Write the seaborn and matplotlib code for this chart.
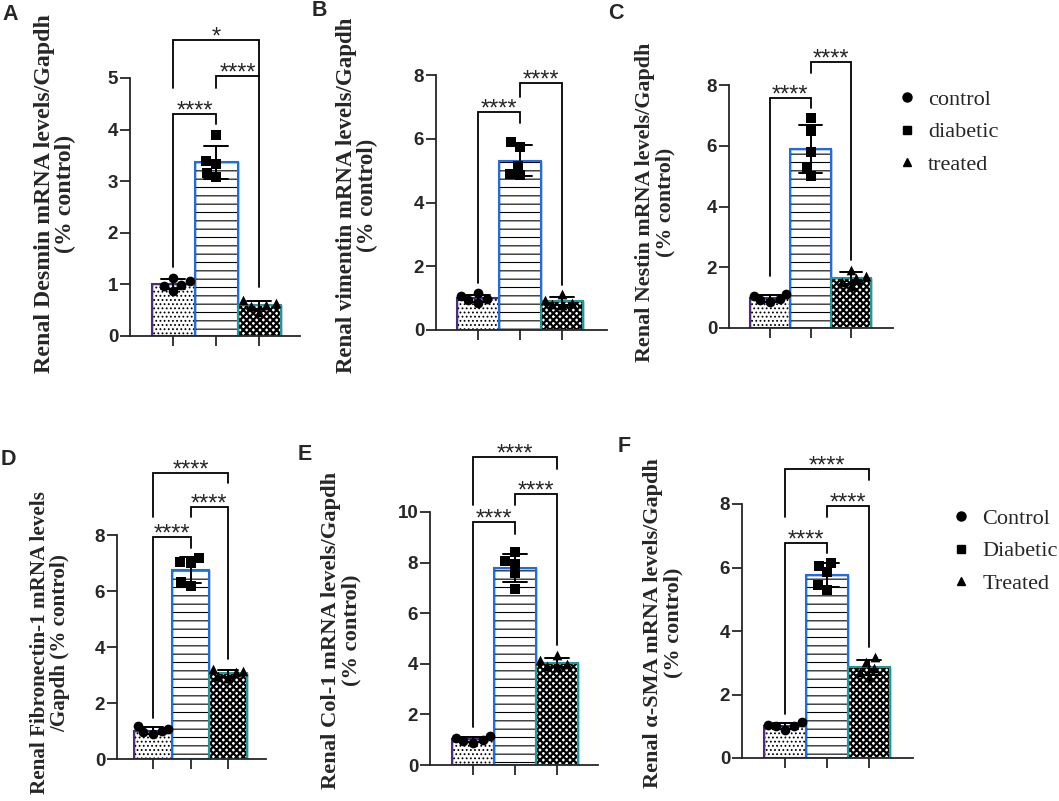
import numpy as np
import pandas as pd
import matplotlib
matplotlib.use("Agg")
import matplotlib.pyplot as plt
import seaborn as sns
from matplotlib.lines import Line2D
from matplotlib.patches import Rectangle

sns.set_theme(style="ticks")
plt.rcParams["font.family"] = ["Liberation Sans", "DejaVu Sans"]
plt.rcParams["hatch.linewidth"] = 0.8

# ── Data (5 animals per group) ──
groups = ["control", "diabetic", "treated"]

desmin = [[1.06, 0.87, 0.99, 1.12, 0.96],
          [3.89, 3.34, 3.39, 3.08, 3.15],
          [0.70, 0.61, 0.63, 0.58, 0.47]]
vimentin = [[1.15, 0.84, 1.07, 0.94, 0.96],
            [5.91, 5.75, 5.16, 4.86, 4.90],
            [0.94, 1.12, 0.80, 0.82, 0.86]]
nestin = [[1.13, 0.84, 1.04, 0.93, 0.95],
          [6.90, 6.49, 5.78, 5.29, 4.99],
          [1.72, 1.37, 1.64, 1.90, 1.53]]
fibronectin = [[1.18, 0.88, 1.06, 0.95, 1.01],
               [7.05, 7.17, 6.99, 6.19, 6.31],
               [3.14, 3.10, 3.20, 2.90, 2.95]]
col1 = [[0.95, 1.14, 0.99, 1.08, 0.88],
        [8.42, 7.96, 8.05, 7.57, 6.97],
        [4.34, 4.14, 3.88, 3.90, 3.99]]
asma = [[1.14, 0.87, 1.03, 1.00, 1.00],
        [6.15, 5.87, 6.05, 5.29, 5.45],
        [3.17, 3.01, 2.82, 2.56, 2.71]]

# brackets: (group i, group j, height, left leg bottom, right leg bottom, label)
desmin_sig = [(0, 1, 4.30, 1.34, 4.11, "****"),
              (1, 2, 5.03, 4.81, 0.94, "****"),
              (0, 2, 5.74, 4.81, 5.03, "*")]
vimentin_sig = [(0, 1, 6.85, 1.46, 6.49, "****"),
                (1, 2, 7.74, 7.32, 1.41, "****")]
nestin_sig = [(0, 1, 7.56, 1.70, 7.23, "****"),
              (1, 2, 8.75, 8.41, 2.25, "****")]
fibronectin_sig = [(0, 1, 7.92, 1.48, 7.55, "****"),
                   (1, 2, 8.99, 8.65, 3.56, "****"),
                   (0, 2, 10.2, 8.65, 9.85, "****")]
col1_sig = [(0, 1, 9.61, 1.51, 9.14, "****"),
            (1, 2, 10.70, 10.29, 4.74, "****"),
            (0, 2, 12.17, 10.29, 11.71, "****")]
asma_sig = [(0, 1, 6.78, 1.40, 6.45, "****"),
            (1, 2, 7.95, 7.60, 3.50, "****"),
            (0, 2, 9.11, 7.60, 8.76, "****")]

legend_lower = ["control", "diabetic", "treated"]
legend_upper = ["Control", "Diabetic", "Treated"]

# ── Styling ──
W, H = 1059, 801
markers = ["o", "s", "^"]
hatches = ["....", "--", "xxxxx"]
edge_colors = ["#4b2d80", "#1a6ee6", "#1a9c9c"]
SERIF = ["Liberation Serif", "DejaVu Serif"]

# panel layout in pixels: spine x, right end x, y of zero, y of top tick
panels = [
    dict(data=desmin, sig=desmin_sig, ymax=5, step=1, px=(130, 300, 336, 78), centers=(173, 259),
         label="A", lab_xy=(2, 4), ylab="Renal Desmin mRNA levels/Gapdh\n(% control)",
         ylab_xy=(55, 194), ylab_fs=17.2),
    dict(data=vimentin, sig=vimentin_sig, ymax=8, step=2, px=(436, 607, 330, 75), centers=(478, 562),
         label="B", lab_xy=(312, 0), ylab="Renal vimentin mRNA levels/Gapdh\n(% control)",
         ylab_xy=(357, 195), ylab_fs=16.5),
    dict(data=nestin, sig=nestin_sig, ymax=8, step=2, px=(729, 893, 328, 85), centers=(770, 851),
         label="C", lab_xy=(608, 3), ylab="Renal Nestin mRNA levels/Gapdh\n(% control)",
         ylab_xy=(655, 202), ylab_fs=15.8),
    dict(data=fibronectin, sig=fibronectin_sig, ymax=8, step=2, px=(117, 266, 759, 535), centers=(153, 228),
         label="D", lab_xy=(1, 449), ylab="Renal Fibronectin-1 mRNA levels\n/Gapdh (% control)",
         ylab_xy=(50, 643), ylab_fs=15.2),
    dict(data=col1, sig=col1_sig, ymax=10, step=2, px=(430, 598, 765, 512), centers=(473, 557),
         label="E", lab_xy=(298, 444), ylab="Renal Col-1 mRNA levels/Gapdh\n(% control)",
         ylab_xy=(341, 630), ylab_fs=16.2),
    dict(data=asma, sig=asma_sig, ymax=8, step=2, px=(742, 913, 758, 504), centers=(785, 869),
         label="F", lab_xy=(618, 436), ylab="Renal α-SMA mRNA levels/Gapdh\n(% control)",
         ylab_xy=(663, 623), ylab_fs=16.0),
]

fig = plt.figure(figsize=(W / 100, H / 100), dpi=100)

for p in panels:
    x0, x1, y0, yt = p["px"]
    c0, c2 = p["centers"]
    unit = (c2 - c0) / 2
    ax = fig.add_axes([x0 / W, 1 - y0 / H, (x1 - x0) / W, (y0 - yt) / H])

    df = pd.DataFrame({
        "group": np.repeat(groups, [len(v) for v in p["data"]]),
        "value": np.concatenate(p["data"]),
    })

    sns.barplot(data=df, x="group", y="value", order=groups, errorbar="sd",
                capsize=0.55, width=1.0, color="white", edgecolor="black",
                linewidth=1.0, err_kws={"color": "black", "linewidth": 1.4}, ax=ax)
    for k, (bar, h, ec) in enumerate(zip(ax.patches, hatches, edge_colors)):
        bar.set_hatch(h)
        if k == 2 and hasattr(bar, "set_hatch_linewidth"):
            bar.set_hatch_linewidth(1.6)
        ax.add_patch(Rectangle((bar.get_x(), 0), bar.get_width(), bar.get_height(),
                               fill=False, edgecolor=ec, linewidth=1.5, zorder=1.5))

    for g, m in zip(groups, markers):
        sns.swarmplot(data=df[df["group"] == g], x="group", y="value", order=groups,
                      marker=m, color="black", size=7, ax=ax, zorder=3)

    # significance brackets
    for i, j, y, yl, yr, txt in p["sig"]:
        ax.plot([i, i, j, j], [yl, y, y, yr], color="black", lw=1.3,
                clip_on=False, solid_joinstyle="miter")
        ax.annotate(txt, xy=((i + j) / 2, y), xytext=(0, -2.5), textcoords="offset points",
                    ha="center", va="baseline", fontsize=17, annotation_clip=False)

    ax.set_xlim(-(c0 - x0) / unit, 2 + (x1 - c2) / unit)
    ax.set_ylim(0, p["ymax"])
    yticks = np.arange(0, p["ymax"] + 0.01, p["step"])
    ax.set_yticks(yticks, [f"{t:g}" for t in yticks], fontweight="heavy", fontsize=13.5)
    ax.set_xticks([0, 1, 2], ["", "", ""])
    ax.set_xlabel("")
    ax.set_ylabel("")
    ax.tick_params(axis="both", width=1.3, length=7, pad=1.5)
    sns.despine(ax=ax)
    for s in ["left", "bottom"]:
        ax.spines[s].set_linewidth(1.3)

    fig.text(p["lab_xy"][0] / W, 1 - p["lab_xy"][1] / H, p["label"], fontsize=15.5,
             fontweight="bold", ha="left", va="top")
    fig.text(p["ylab_xy"][0] / W, 1 - p["ylab_xy"][1] / H, p["ylab"], rotation=90,
             ha="center", va="center", multialignment="center", family=SERIF,
             fontweight="bold", fontsize=p["ylab_fs"], linespacing=1.05)

# legends
for labels, (lx, ly) in [(legend_lower, (896, 89)), (legend_upper, (950, 508))]:
    handles = [Line2D([], [], marker=m, ls="", color="black",
                      markersize=6.5 if m == "o" else 6) for m in markers]
    fig.legend(handles, labels, loc="upper left", bbox_to_anchor=(lx / W, 1 - ly / H),
               frameon=False, handlelength=1.0, handletextpad=0.45, labelspacing=0.55,
               borderpad=0, borderaxespad=0, prop={"family": SERIF, "size": 16})

fig.savefig("out.png", dpi=100)
